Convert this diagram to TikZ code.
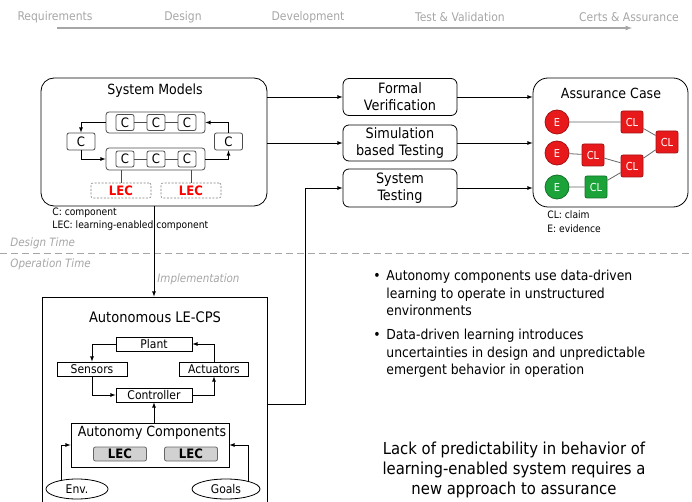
\documentclass[tikz,border=0pt]{standalone}
\usepackage{fontspec}
\setmainfont{DejaVu Sans Condensed}
\usetikzlibrary{shapes.geometric, arrows, positioning}

\definecolor{ecred}{HTML}{E8191B}
\definecolor{ecgreen}{HTML}{1BA33A}
\definecolor{hdrgray}{HTML}{A6A6A6}

\tikzstyle{arrow} = [->,>=latex,draw=black]
\tikzstyle{hdr} = [text=hdrgray, font=\fontsize{12}{14}\selectfont]
\tikzstyle{cbox} = [draw=black!70, rounded corners=2pt, minimum width=18, minimum height=16, inner sep=0pt, font=\fontsize{13}{13}\selectfont]
\tikzstyle{grp} = [draw=black!70, rounded corners=3pt, minimum width=99, minimum height=21, inner sep=0pt]
\tikzstyle{lecd} = [draw=black!50, dash pattern=on 2pt off 1.5pt, line width=0.6pt, rounded corners=2pt, minimum width=60, minimum height=15, inner sep=0pt, text=red, font=\bfseries\fontsize{13}{13}\selectfont]
\tikzstyle{task} = [draw, rounded corners=6pt, minimum width=114, minimum height=37, align=center, inner sep=0pt, font=\fontsize{14.3}{17}\selectfont]
\tikzstyle{ev} = [circle, draw=ecred!70!black, fill=ecred, text=white, minimum size=24, inner sep=0pt, font=\fontsize{11}{11}\selectfont]
\tikzstyle{cl} = [draw=ecred!70!black, fill=ecred, text=white, rounded corners=2pt, minimum size=22, inner sep=0pt, font=\fontsize{11}{11}\selectfont]
\tikzstyle{blk} = [draw, minimum height=14, inner sep=0pt, font=\fontsize{12}{12}\selectfont]
\tikzstyle{leci} = [draw=black!60, fill=black!18, rounded corners=2pt, minimum width=53, minimum height=14, inner sep=0pt, font=\bfseries\fontsize{13}{13}\selectfont]
\tikzstyle{note} = [align=left, inner sep=0pt, font=\fontsize{10.2}{13}\selectfont]
\tikzstyle{phase} = [text=hdrgray, inner sep=0pt, font=\itshape\fontsize{11.5}{12}\selectfont]
\tikzstyle{remark} = [align=left, inner sep=0pt, font=\fontsize{13.8}{17.5}\selectfont]

\begin{document}
\begin{tikzpicture}[x=1pt,y=-1pt,line width=0.8pt]
    \useasboundingbox (0,0) rectangle (692,502);

    % life cycle
    \node[hdr] (req) at (55,17) {Requirements};
    \node[hdr] (des) at (183,17) {Design};
    \node[hdr] (dev) at (308,17) {Development};
    \node[hdr] (tv) at (460,17) {Test \& Validation};
    \node[hdr] (cert) at (629,17) {Certs \& Assurance};
    \coordinate (tl0) at (57,28);
    \coordinate (tl1) at (632,28);
    \draw[->,>=latex,draw=hdrgray,line width=1.2pt] (tl0) -- (tl1);

    % system models
    \node[draw, rounded corners=13pt, minimum width=226, minimum height=128] (sysm) at (154,142) {};
    \node[font=\fontsize{14}{14}\selectfont] (sysmt) at (155,91) {System Models};
    \node[grp] (top) at (155.5,122.5) {};
    \node[grp, minimum height=22] (bot) at (155.5,159) {};
    \node[cbox] (t1) at (125,122.5) {C};
    \node[cbox] (t2) at (156,122.5) {C};
    \node[cbox] (t3) at (187,122.5) {C};
    \node[cbox] (b1) at (125,159) {C};
    \node[cbox] (b2) at (156,159) {C};
    \node[cbox] (b3) at (187,159) {C};
    \node[cbox, minimum width=28, minimum height=17] (cl) at (81,141.5) {C};
    \node[cbox, minimum width=28, minimum height=17] (cr) at (228.5,141.5) {C};
    \node[lecd] (lec1) at (121,190.5) {LEC};
    \node[lecd] (lec2) at (191,190.5) {LEC};
    \draw[black!70] (t1) -- (t2) -- (t3);
    \draw[black!70] (b1) -- (b2) -- (b3);
    \draw[black!70] (lec1.north) -- (lec1.north |- bot.south);
    \draw[black!70] (lec2.north) -- (lec2.north |- bot.south);
    \draw[arrow] (top.west) -| (cl.north);
    \draw[arrow] (cl.south) |- (bot.west);
    \draw[arrow] (bot.east) -| (cr.south);
    \draw[arrow] (cr.north) |- (top.east);
    \node[note, anchor=north west] (legc) at (52,208) {C: component\\LEC: learning-enabled component};

    % verification activities
    \node[task] (formal) at (400,97) {Formal\\Verification};
    \node[task, minimum height=36] (sim) at (400,143) {Simulation\\based Testing};
    \node[task, minimum height=38] (systest) at (400,188) {System\\Testing};
    \draw[arrow] (sysm.east |- formal.west) -- (formal.west);
    \draw[arrow] (sysm.east |- sim.west) -- (sim.west);

    % assurance case
    \node[draw, rounded corners=15pt, minimum width=155, minimum height=129] (asc) at (610.5,142.5) {};
    \node[font=\fontsize{14}{14}\selectfont] (asct) at (611,93) {Assurance Case};
    \draw[arrow] (formal.east) -- (formal.east -| asc.west);
    \draw[arrow] (sim.east) -- (sim.east -| asc.west);
    \draw[arrow] (systest.east) -- (systest.east -| asc.west);
    \node[ev] (e1) at (557,122) {E};
    \node[ev] (e2) at (557,153) {E};
    \node[ev, draw=ecgreen!70!black, fill=ecgreen] (e3) at (557,187) {E};
    \node[cl] (c1) at (632,122) {CL};
    \node[cl] (c2) at (593,155) {CL};
    \node[cl] (c3) at (632,166) {CL};
    \node[cl] (c4) at (667,142) {CL};
    \node[cl, draw=ecgreen!70!black, fill=ecgreen] (c5) at (596,187) {CL};
    \draw[black!60] (e1) -- (c1) -- (c4);
    \draw[black!60] (e2) -- (c2) -- (c3) -- (c4);
    \draw[black!60] (e3) -- (c5) -- (c3);
    \node[note, anchor=north west, font=\fontsize{10.2}{14.5}\selectfont] (legcl) at (547,210) {CL: claim\\E: evidence};

    % design / operation
    \coordinate (sepl) at (0,253);
    \coordinate (sepr) at (692,253);
    \draw[hdrgray, dash pattern=on 7pt off 4pt] (sepl) -- (sepr);
    \node[phase, anchor=west] (dtime) at (10,243) {Design Time};
    \node[phase, anchor=west] (otime) at (10,264) {Operation Time};

    % autonomous LE-CPS
    \node[draw, minimum width=225, minimum height=214, inner sep=0pt] (acps) at (154.5,404) {};
    \node[font=\fontsize{14.5}{15}\selectfont] (acpst) at (155,317) {Autonomous LE-CPS};
    \draw[arrow] (sysm.south) -- (sysm.south |- acps.north) node[pos=0.81, right=3pt, phase] {Implementation};
    \coordinate (bend) at (305,0);
    \draw[arrow] (acps.east) -- (acps.east -| bend) |- (systest.west);

    \node[blk, minimum width=76] (plant) at (154,344) {Plant};
    \node[blk, minimum width=70] (sens) at (92,369) {Sensors};
    \node[blk, minimum width=69] (act) at (214,369) {Actuators};
    \node[blk, minimum width=76] (ctrl) at (154,395) {Controller};
    \draw[arrow] (plant.west) -| (sens.north);
    \draw[arrow] (sens.south) |- (ctrl.west);
    \draw[arrow] (ctrl.east) -| (act.south);
    \draw[arrow] (act.north) |- (plant.east);

    \node[draw, minimum width=158, minimum height=44, inner sep=0pt] (auto) at (150,445) {};
    \node[font=\fontsize{14}{14}\selectfont] (autot) at (152,433) {Autonomy Components};
    \node[leci] (lec3) at (120,454) {LEC};
    \node[leci] (lec4) at (191,454) {LEC};
    \draw[arrow] (auto.north -| ctrl.south) -- (ctrl.south);
    \node[ellipse, draw, minimum width=62, minimum height=20, inner sep=0pt, font=\fontsize{12}{12}\selectfont] (env) at (77,489) {Env.};
    \node[ellipse, draw, minimum width=68, minimum height=20, inner sep=0pt, font=\fontsize{12}{12}\selectfont] (goals) at (226,489) {Goals};
    \draw[arrow] (env.150) |- (auto.west);
    \draw[arrow] (goals.20) |- (auto.east);

    % remarks
    \node[remark, anchor=north west] (txt1) at (386,270) {Autonomy components use data-driven\\learning to operate in unstructured\\environments};
    \node[remark, anchor=north east] (bul1) at ([xshift=-5]txt1.north west) {\vphantom{Ad}•};
    \node[remark, anchor=north west] (txt2) at (386,329) {Data-driven learning introduces\\uncertainties in design and unpredictable\\emergent behavior in operation};
    \node[remark, anchor=north east] (bul2) at ([xshift=-5]txt2.north west) {\vphantom{Ad}•};
    \node[align=center, font=\fontsize{16.5}{20}\selectfont] (lack) at (514,470) {Lack of predictability in behavior of\\learning-enabled system requires a\\new approach to assurance};
\end{tikzpicture}
\end{document}
